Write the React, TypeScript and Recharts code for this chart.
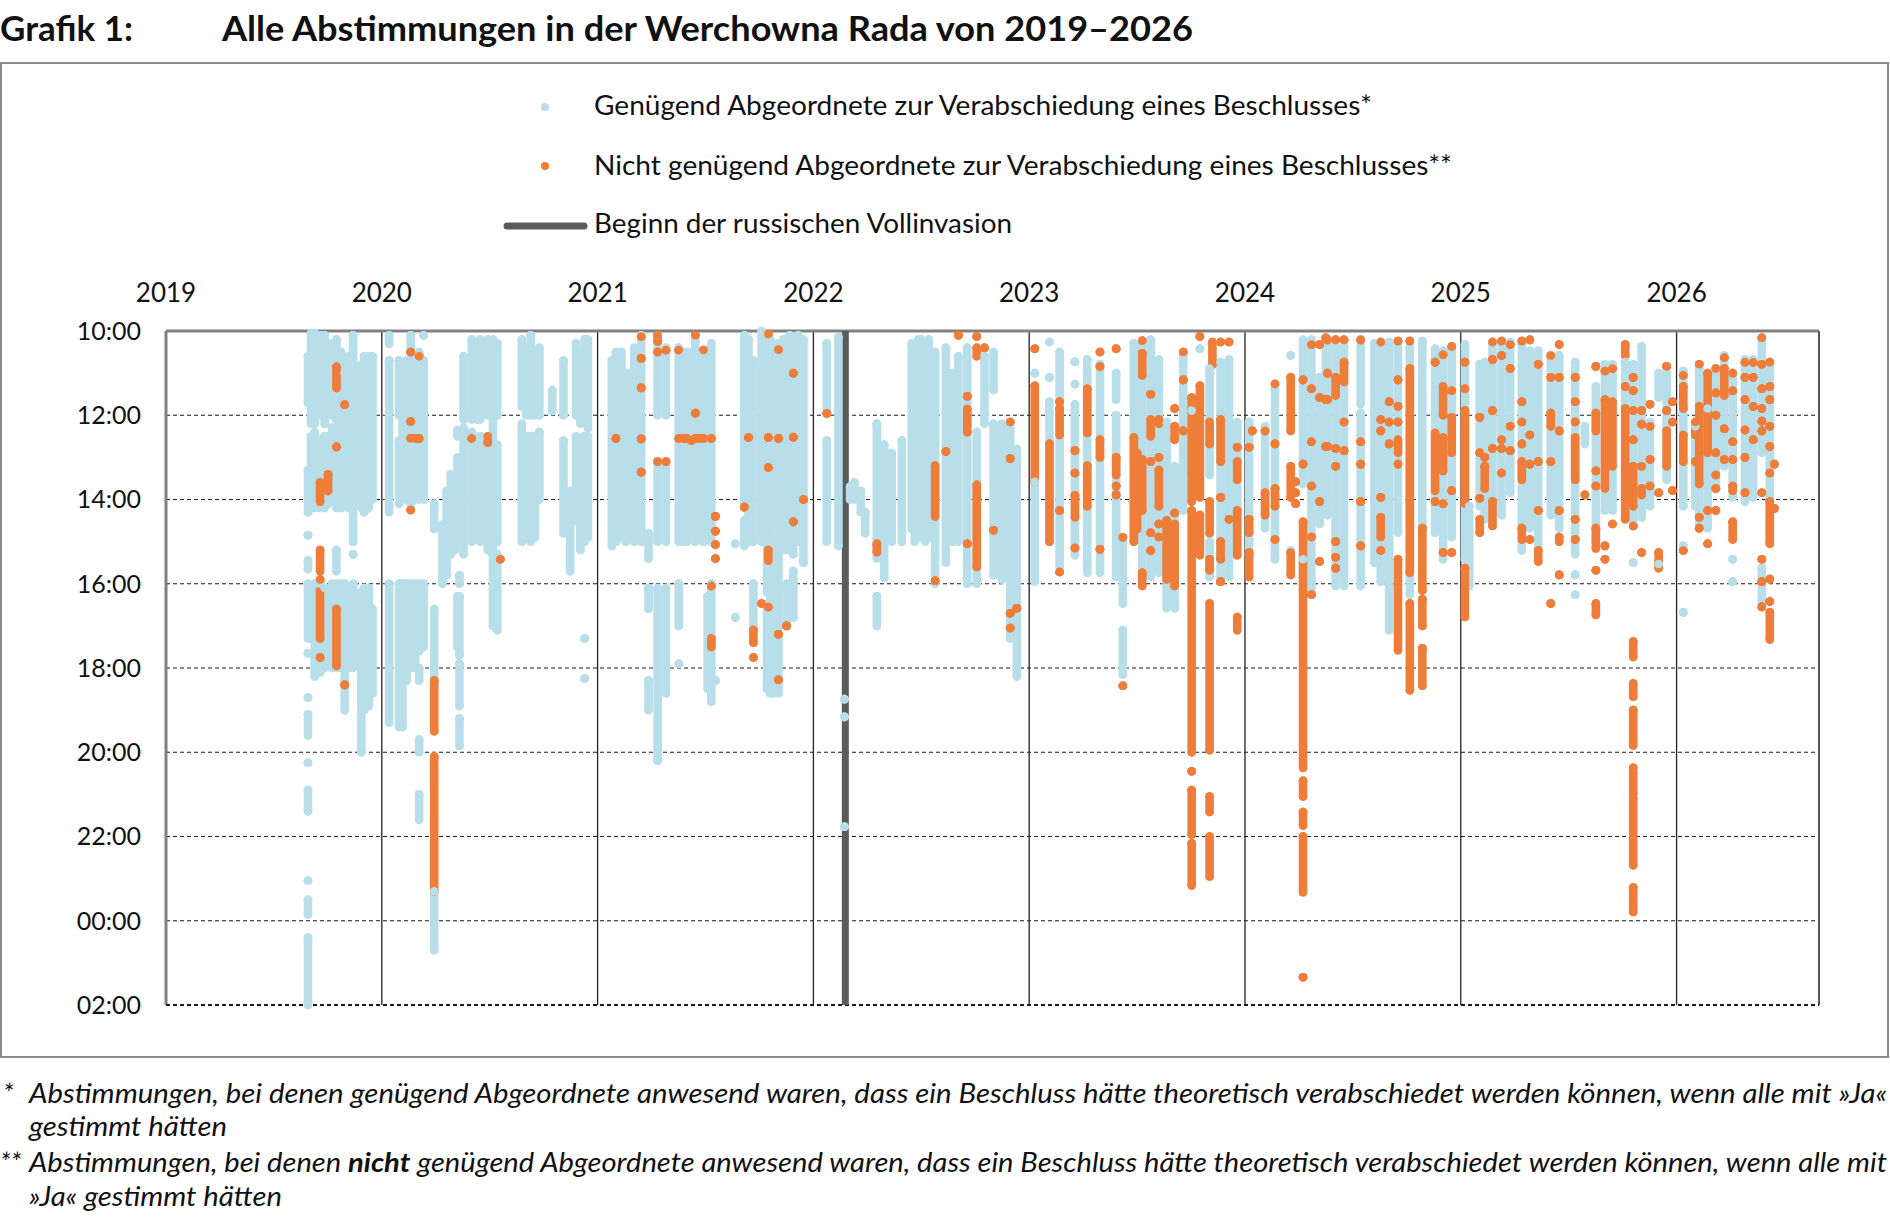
import {
  CartesianGrid,
  ErrorBar,
  Legend,
  ReferenceLine,
  Scatter,
  ScatterChart,
  XAxis,
  YAxis,
} from "recharts"

const BLUE = "#b8dee9"
const ORANGE = "#ef7d3a"
const FONT = "Lato, 'Open Sans', sans-serif"

const YEARS = [2019, 2020, 2021, 2022, 2023, 2024, 2025, 2026]
const HOURS = [10, 12, 14, 16, 18, 20, 22, 24, 26]
const X_END = 2026.66
const INVASION = 2022.148

// [date as fractional year, first vote hour, last vote hour]; hours past midnight run on as 24+
type Run = [number, number, number]

const blue2019: Run[] = [
  [2019.658, 10.6, 11.7], [2019.658, 13.3, 14.3], [2019.658, 14.85, 14.85], [2019.658, 15.45, 15.65],
  [2019.658, 16.0, 17.3], [2019.658, 17.65, 17.65], [2019.658, 18.7, 18.7], [2019.658, 19.1, 19.6],
  [2019.658, 20.25, 20.25], [2019.658, 20.9, 21.4], [2019.658, 23.05, 23.05], [2019.658, 23.5, 23.85],
  [2019.658, 24.4, 26.0],
  [2019.672, 10.05, 12.2], [2019.672, 12.5, 14.2],
  [2019.689, 10.05, 12.2], [2019.689, 12.4, 14.2], [2019.689, 16.0, 18.2],
  [2019.714, 10.1, 12.0], [2019.714, 12.6, 14.2], [2019.714, 16.0, 18.1],
  [2019.735, 10.1, 12.2], [2019.735, 12.5, 14.2], [2019.735, 16.1, 18.0],
  [2019.751, 10.3, 11.0], [2019.751, 12.5, 14.1],
  [2019.77, 10.3, 12.0], [2019.77, 12.3, 14.0], [2019.77, 16.0, 18.0],
  [2019.79, 10.2, 12.1], [2019.79, 12.3, 14.2], [2019.79, 15.2, 15.7], [2019.79, 16.0, 18.0],
  [2019.812, 10.5, 14.2], [2019.812, 16.0, 18.0],
  [2019.828, 11.0, 14.0], [2019.828, 16.0, 19.0],
  [2019.848, 10.6, 14.2], [2019.848, 16.2, 18.0],
  [2019.867, 10.1, 15.0], [2019.867, 15.3, 15.3], [2019.867, 16.0, 18.0],
  [2019.905, 10.8, 14.2], [2019.905, 16.2, 20.0],
  [2019.918, 10.6, 14.3], [2019.918, 16.1, 19.0],
  [2019.94, 10.6, 14.2], [2019.94, 16.1, 18.9],
  [2019.957, 10.6, 14.0], [2019.957, 16.6, 18.6],
]

const orange2019: Run[] = [
  [2019.714, 13.6, 14.05], [2019.714, 15.2, 15.7], [2019.714, 15.9, 17.3], [2019.714, 17.75, 17.75],
  [2019.751, 13.4, 13.8],
  [2019.79, 10.85, 11.35], [2019.79, 12.75, 12.75], [2019.79, 16.6, 17.95],
  [2019.828, 11.75, 11.75], [2019.828, 18.4, 18.4],
]

const blue2020: Run[] = [
  [2020.034, 10.1, 10.3], [2020.034, 10.7, 14.3], [2020.034, 16.0, 19.3],
  [2020.08, 10.7, 12.0], [2020.08, 12.6, 14.1], [2020.08, 16.0, 19.4],
  [2020.096, 10.8, 14.0], [2020.096, 16.0, 19.4],
  [2020.115, 10.7, 14.0], [2020.115, 16.0, 18.3],
  [2020.134, 10.1, 12.0], [2020.134, 12.6, 14.1], [2020.134, 16.0, 18.0],
  [2020.155, 10.7, 14.0], [2020.155, 16.0, 18.0],
  [2020.173, 10.5, 14.0], [2020.173, 16.0, 17.6], [2020.173, 18.0, 18.3], [2020.173, 19.7, 20.0],
  [2020.173, 21.0, 21.6],
  [2020.194, 10.1, 10.1], [2020.194, 10.7, 14.0], [2020.194, 16.0, 17.5],
  [2020.243, 14.1, 14.7], [2020.243, 16.6, 18.3], [2020.243, 23.3, 24.7],
  [2020.281, 14.6, 16.0],
  [2020.3, 13.8, 15.8],
  [2020.32, 13.4, 15.3],
  [2020.34, 13.5, 15.2],
  [2020.351, 12.35, 12.5], [2020.351, 13.0, 15.0], [2020.351, 16.3, 17.5],
  [2020.36, 15.8, 16.0], [2020.36, 16.3, 17.7], [2020.36, 17.9, 18.9], [2020.36, 19.2, 19.85],
  [2020.379, 10.6, 12.1], [2020.379, 12.3, 15.3],
  [2020.417, 10.2, 12.1], [2020.417, 12.4, 15.0],
  [2020.44, 10.3, 12.1], [2020.44, 12.6, 14.9],
  [2020.456, 10.2, 12.1], [2020.456, 12.5, 15.0],
  [2020.491, 10.2, 12.0], [2020.491, 12.5, 15.2],
  [2020.515, 10.2, 15.3], [2020.515, 15.3, 17.0],
  [2020.535, 10.3, 12.0], [2020.535, 12.7, 15.0], [2020.535, 15.3, 17.1],
  [2020.649, 10.2, 11.8], [2020.649, 12.2, 15.0],
  [2020.67, 10.4, 12.0], [2020.67, 12.5, 14.9],
  [2020.69, 10.1, 12.0], [2020.69, 12.5, 15.0],
  [2020.71, 10.7, 12.0], [2020.71, 12.5, 14.9],
  [2020.73, 10.4, 12.0], [2020.73, 12.4, 14.0],
  [2020.79, 11.4, 11.9],
  [2020.842, 10.7, 12.0], [2020.842, 12.6, 14.8],
  [2020.873, 13.8, 15.7],
  [2020.9, 10.3, 12.0], [2020.9, 12.5, 14.5],
  [2020.92, 10.5, 12.2], [2020.92, 12.6, 15.2],
  [2020.94, 10.2, 12.0], [2020.94, 12.5, 15.0], [2020.94, 17.3, 17.3], [2020.94, 18.25, 18.25],
  [2020.955, 10.2, 12.3], [2020.955, 12.5, 14.9],
]

const orange2020: Run[] = [
  [2020.134, 10.5, 10.5], [2020.134, 12.15, 12.15], [2020.134, 12.55, 12.55], [2020.134, 14.25, 14.25],
  [2020.155, 12.55, 12.55],
  [2020.173, 10.6, 10.6], [2020.173, 12.55, 12.55],
  [2020.243, 18.3, 19.5], [2020.243, 20.1, 23.3],
  [2020.417, 12.55, 12.55],
  [2020.491, 12.5, 12.65],
  [2020.549, 15.42, 15.42],
]

const blue2021: Run[] = [
  [2021.066, 10.7, 15.1], [2021.085, 10.5, 15.0], [2021.11, 10.5, 14.9], [2021.13, 11.0, 15.0],
  [2021.15, 11.0, 14.9], [2021.17, 10.4, 15.0], [2021.202, 10.1, 15.0],
  [2021.236, 14.8, 15.4], [2021.236, 16.1, 16.6], [2021.236, 18.3, 19.0],
  [2021.278, 10.1, 12.0], [2021.278, 13.1, 15.0], [2021.278, 16.1, 20.2],
  [2021.317, 10.4, 12.0], [2021.317, 13.1, 15.0], [2021.317, 16.1, 18.6],
  [2021.376, 10.4, 15.0], [2021.376, 16.0, 17.0], [2021.376, 17.9, 17.9],
  [2021.4, 10.5, 15.0], [2021.414, 10.5, 15.0], [2021.435, 10.5, 14.7], [2021.453, 10.2, 15.0],
  [2021.47, 10.7, 14.9], [2021.491, 10.5, 15.0],
  [2021.51, 10.5, 14.9], [2021.51, 16.3, 18.5],
  [2021.527, 10.3, 15.0], [2021.527, 16.0, 18.8],
  [2021.546, 18.3, 18.3],
  [2021.638, 15.05, 15.05], [2021.638, 16.8, 16.8],
  [2021.68, 10.1, 14.2], [2021.68, 14.5, 15.1],
  [2021.699, 10.2, 15.0],
  [2021.722, 10.7, 15.0], [2021.722, 16.0, 17.0],
  [2021.76, 10.0, 15.0],
  [2021.785, 10.1, 16.2], [2021.785, 16.5, 18.5],
  [2021.8, 10.2, 18.6],
  [2021.815, 10.5, 14.5], [2021.815, 15.0, 18.6],
  [2021.838, 10.3, 18.6],
  [2021.86, 10.2, 15.2],
  [2021.876, 10.2, 15.2], [2021.876, 16.0, 17.0],
  [2021.89, 10.1, 15.0],
  [2021.907, 10.3, 15.3], [2021.907, 15.7, 16.8],
  [2021.93, 10.1, 15.0],
  [2021.954, 10.2, 15.5],
]

const orange2021: Run[] = [
  [2021.085, 12.55, 12.55],
  [2021.202, 10.13, 10.13], [2021.202, 10.65, 10.65], [2021.202, 11.35, 11.35], [2021.202, 12.56, 12.56],
  [2021.202, 13.35, 13.35],
  [2021.278, 10.1, 10.25], [2021.278, 10.5, 10.5], [2021.278, 13.1, 13.1],
  [2021.317, 10.45, 10.45], [2021.317, 13.1, 13.1],
  [2021.376, 10.45, 10.45], [2021.376, 12.55, 12.55],
  [2021.4, 12.55, 12.55], [2021.414, 12.55, 12.55], [2021.435, 12.6, 12.6],
  [2021.453, 10.1, 10.1], [2021.453, 11.95, 11.95], [2021.453, 12.55, 12.55],
  [2021.47, 12.55, 12.55],
  [2021.491, 10.45, 10.45], [2021.491, 12.55, 12.55],
  [2021.527, 12.55, 12.55], [2021.527, 16.05, 16.05], [2021.527, 17.3, 17.5],
  [2021.546, 14.4, 14.4], [2021.546, 14.75, 14.75], [2021.546, 15.07, 15.07], [2021.546, 15.4, 15.4],
  [2021.68, 14.18, 14.18],
  [2021.699, 12.53, 12.53],
  [2021.722, 17.1, 17.4], [2021.722, 17.75, 17.75],
  [2021.76, 16.47, 16.47],
  [2021.791, 10.07, 10.07], [2021.791, 12.53, 12.53], [2021.791, 13.24, 13.24], [2021.791, 15.2, 15.45],
  [2021.791, 16.55, 16.55],
  [2021.838, 10.44, 10.44], [2021.838, 12.55, 12.55], [2021.838, 17.2, 17.2], [2021.838, 18.28, 18.28],
  [2021.876, 17.0, 17.0],
  [2021.907, 11.0, 11.0], [2021.907, 12.52, 12.52], [2021.907, 14.53, 14.53],
  [2021.954, 14.0, 14.0],
]

const blue2022: Run[] = [
  [2022.062, 10.3, 11.85], [2022.062, 12.6, 15.0],
  [2022.116, 10.15, 15.1],
  [2022.144, 18.74, 18.74], [2022.144, 19.16, 19.16], [2022.144, 21.77, 21.77],
  [2022.17, 13.7, 14.0], [2022.19, 13.6, 14.0], [2022.22, 13.8, 14.3], [2022.24, 14.3, 14.8],
  [2022.294, 12.2, 15.4], [2022.294, 16.3, 17.0],
  [2022.328, 12.7, 15.85], [2022.363, 12.9, 15.0], [2022.41, 12.6, 15.0],
  [2022.456, 10.3, 14.7], [2022.47, 10.3, 15.0], [2022.487, 10.2, 14.8], [2022.5, 10.2, 14.9],
  [2022.518, 10.3, 15.0], [2022.535, 10.2, 14.9], [2022.564, 10.5, 16.0], [2022.614, 10.4, 15.5],
  [2022.645, 11.0, 15.0], [2022.672, 10.6, 15.0], [2022.713, 10.4, 16.0], [2022.757, 12.4, 16.0],
  [2022.793, 10.6, 12.2],
  [2022.835, 10.5, 11.4], [2022.835, 12.2, 15.8],
  [2022.873, 12.2, 15.9], [2022.912, 12.2, 17.3], [2022.943, 12.8, 18.2],
]

const orange2022: Run[] = [
  [2022.062, 11.96, 11.96],
  [2022.294, 15.05, 15.25],
  [2022.564, 13.2, 14.4], [2022.564, 15.93, 15.93],
  [2022.614, 12.86, 12.86],
  [2022.672, 10.1, 10.1],
  [2022.713, 11.55, 11.55], [2022.713, 11.85, 12.4], [2022.713, 15.05, 15.05],
  [2022.757, 10.13, 10.13], [2022.757, 10.4, 10.6], [2022.757, 13.65, 15.6],
  [2022.793, 10.4, 10.4],
  [2022.835, 14.73, 14.73],
  [2022.912, 12.16, 12.16], [2022.912, 13.03, 13.03], [2022.912, 16.7, 16.7], [2022.912, 17.05, 17.05],
  [2022.943, 16.58, 16.58],
]

const blue2023: Run[] = [
  [2023.026, 11.0, 11.0], [2023.026, 13.58, 15.95],
  [2023.094, 10.26, 10.26], [2023.094, 11.1, 11.1], [2023.094, 11.68, 15.0],
  [2023.141, 10.5, 15.6],
  [2023.212, 10.73, 10.73], [2023.212, 11.26, 11.26], [2023.212, 11.74, 15.32],
  [2023.269, 10.68, 15.74], [2023.328, 10.79, 15.74],
  [2023.403, 11.0, 11.63], [2023.403, 12.0, 15.84],
  [2023.434, 14.9, 16.47], [2023.434, 17.1, 18.16],
  [2023.485, 10.3, 15.0], [2023.524, 10.26, 15.84], [2023.563, 10.21, 15.84], [2023.601, 10.68, 15.74],
  [2023.637, 12.16, 16.58], [2023.674, 13.21, 16.58], [2023.714, 10.58, 14.26], [2023.753, 11.89, 13.42],
  [2023.791, 10.42, 10.42],
  [2023.836, 10.89, 13.42], [2023.836, 15.0, 15.84],
  [2023.887, 10.74, 15.95], [2023.926, 10.68, 15.84], [2023.964, 12.16, 15.32],
]

const orange2023: Run[] = [
  [2023.026, 10.42, 10.42], [2023.026, 11.3, 13.58],
  [2023.094, 12.68, 15.0],
  [2023.141, 11.68, 11.68], [2023.141, 11.84, 12.47], [2023.141, 14.26, 14.26], [2023.141, 15.72, 15.72],
  [2023.212, 12.84, 12.84], [2023.212, 13.37, 13.37], [2023.212, 13.9, 14.42], [2023.212, 15.15, 15.15],
  [2023.269, 11.37, 12.42], [2023.269, 13.2, 14.16],
  [2023.328, 10.5, 10.5], [2023.328, 10.84, 10.84], [2023.328, 12.58, 13.0], [2023.328, 15.18, 15.18],
  [2023.403, 10.42, 10.42], [2023.403, 13.0, 13.42], [2023.403, 13.68, 13.68], [2023.403, 13.89, 13.89],
  [2023.434, 14.9, 14.9], [2023.434, 18.42, 18.42],
  [2023.485, 12.53, 15.0], [2023.5, 12.9, 14.7],
  [2023.524, 10.23, 10.23], [2023.524, 10.53, 11.05], [2023.524, 13.05, 14.26], [2023.524, 15.74, 16.05],
  [2023.563, 11.5, 11.5], [2023.563, 12.1, 12.5], [2023.563, 13.1, 13.1], [2023.563, 14.79, 14.79],
  [2023.563, 15.21, 15.21],
  [2023.601, 12.1, 12.2], [2023.601, 13.0, 13.0], [2023.601, 13.3, 14.16], [2023.601, 14.58, 14.58],
  [2023.601, 14.89, 14.89],
  [2023.637, 14.5, 15.9],
  [2023.674, 11.84, 11.84], [2023.674, 12.26, 12.58], [2023.674, 14.32, 14.32], [2023.674, 14.58, 16.05],
  [2023.714, 10.5, 10.5], [2023.714, 11.16, 11.16], [2023.714, 12.37, 12.37],
  [2023.753, 11.58, 14.05], [2023.753, 14.26, 20.0], [2023.753, 20.45, 20.45], [2023.753, 20.9, 21.95],
  [2023.753, 22.16, 23.16],
  [2023.791, 10.13, 10.13], [2023.791, 11.3, 13.95], [2023.791, 14.37, 15.32],
  [2023.836, 12.16, 12.68], [2023.836, 14.05, 14.8], [2023.836, 15.42, 15.68], [2023.836, 16.47, 19.95],
  [2023.836, 21.05, 21.42], [2023.836, 22.0, 22.95],
  [2023.849, 10.26, 10.8],
  [2023.887, 10.26, 10.26], [2023.887, 12.1, 13.1], [2023.887, 13.95, 13.95], [2023.887, 15.0, 15.42],
  [2023.887, 15.95, 15.95],
  [2023.926, 10.26, 10.26], [2023.926, 14.47, 14.47],
  [2023.964, 12.76, 12.76], [2023.964, 13.1, 13.53], [2023.964, 14.26, 15.32], [2023.964, 16.79, 17.1],
]

const blue2024: Run[] = [
  [2024.019, 12.16, 15.32], [2024.093, 12.26, 14.68], [2024.139, 11.37, 15.42],
  [2024.212, 10.58, 10.58], [2024.212, 15.21, 15.21],
  [2024.269, 10.21, 13.63], [2024.269, 15.42, 16.16],
  [2024.308, 10.21, 16.26], [2024.346, 11.1, 14.58], [2024.374, 10.16, 13.95], [2024.382, 10.21, 14.37],
  [2024.42, 10.37, 16.05], [2024.459, 10.37, 16.05],
  [2024.536, 10.21, 11.74], [2024.536, 11.95, 16.05],
  [2024.6, 10.3, 15.5], [2024.629, 10.26, 15.95], [2024.668, 10.26, 17.1], [2024.709, 10.26, 14.79],
  [2024.764, 10.37, 16.26], [2024.822, 10.24, 14.68], [2024.881, 10.42, 14.79], [2024.918, 10.47, 15.42],
  [2024.958, 10.47, 14.89],
]

const orange2024: Run[] = [
  [2024.019, 12.76, 12.76], [2024.019, 14.47, 14.79], [2024.019, 15.26, 15.84],
  [2024.034, 12.37, 12.37],
  [2024.093, 12.37, 12.37], [2024.093, 13.84, 14.37],
  [2024.139, 11.26, 11.26], [2024.139, 12.68, 12.68], [2024.139, 13.74, 14.16], [2024.139, 14.95, 14.95],
  [2024.212, 11.1, 12.37], [2024.212, 13.21, 13.95], [2024.212, 15.26, 15.79],
  [2024.235, 13.58, 13.58], [2024.235, 13.84, 13.84], [2024.235, 14.1, 14.1],
  [2024.269, 11.16, 11.16], [2024.269, 13.16, 13.16], [2024.269, 14.53, 20.37], [2024.269, 20.68, 21.05],
  [2024.269, 21.42, 21.74], [2024.269, 22.0, 23.32], [2024.269, 25.34, 25.34],
  [2024.308, 10.32, 10.32], [2024.308, 11.37, 11.37], [2024.308, 12.63, 12.63], [2024.308, 13.68, 13.68],
  [2024.308, 14.89, 14.89], [2024.308, 16.26, 16.26],
  [2024.346, 10.32, 10.32], [2024.346, 11.58, 11.58], [2024.346, 14.05, 14.05], [2024.346, 15.47, 15.47],
  [2024.374, 10.16, 10.16], [2024.374, 11.63, 11.63], [2024.374, 12.74, 12.74],
  [2024.382, 10.21, 10.21], [2024.382, 11.0, 11.0], [2024.382, 11.63, 11.63], [2024.382, 12.74, 12.74],
  [2024.42, 10.21, 10.21], [2024.42, 11.1, 11.53], [2024.42, 12.79, 12.79], [2024.42, 13.21, 13.21],
  [2024.42, 15.0, 15.0], [2024.42, 15.37, 15.37], [2024.42, 15.63, 15.63],
  [2024.459, 10.21, 10.21], [2024.459, 10.74, 11.21], [2024.459, 12.16, 12.16], [2024.459, 12.84, 12.84],
  [2024.536, 10.21, 10.21], [2024.536, 12.63, 12.63], [2024.536, 13.16, 13.16], [2024.536, 14.05, 14.05],
  [2024.536, 15.1, 15.1],
  [2024.629, 10.26, 10.26], [2024.629, 12.1, 12.1], [2024.629, 12.37, 12.37], [2024.629, 13.95, 13.95],
  [2024.629, 14.42, 14.89], [2024.629, 15.21, 15.21],
  [2024.668, 11.68, 11.68], [2024.668, 12.16, 12.16], [2024.668, 12.68, 12.68],
  [2024.709, 10.24, 10.24], [2024.709, 11.16, 11.16], [2024.709, 11.79, 11.79], [2024.709, 12.16, 12.16],
  [2024.709, 12.58, 12.89], [2024.709, 13.16, 13.16], [2024.709, 15.42, 17.58],
  [2024.764, 10.24, 10.24], [2024.764, 10.89, 15.74], [2024.764, 16.47, 18.53],
  [2024.822, 14.68, 16.16], [2024.822, 16.37, 17.0], [2024.822, 17.53, 18.42],
  [2024.881, 10.74, 10.74], [2024.881, 12.42, 13.79], [2024.881, 14.05, 14.05],
  [2024.918, 10.56, 10.56], [2024.918, 11.32, 12.0], [2024.918, 12.53, 13.32], [2024.918, 14.1, 14.1],
  [2024.918, 15.26, 15.26],
  [2024.958, 10.37, 10.37], [2024.958, 11.42, 11.42], [2024.958, 12.05, 12.89], [2024.958, 13.79, 13.79],
  [2024.958, 15.26, 15.26],
]

const blue2025: Run[] = [
  [2025.019, 10.32, 15.42], [2025.039, 14.16, 16.05], [2025.088, 10.79, 14.16], [2025.111, 10.74, 14.47],
  [2025.147, 10.26, 14.37], [2025.189, 10.26, 14.37], [2025.229, 10.26, 13.84], [2025.283, 10.26, 15.21],
  [2025.32, 10.47, 14.68], [2025.359, 10.47, 15.21], [2025.417, 10.58, 14.37], [2025.456, 10.58, 14.68],
  [2025.53, 10.74, 15.3], [2025.53, 15.79, 15.79], [2025.53, 16.26, 16.26],
  [2025.575, 12.26, 12.68], [2025.626, 11.32, 15.0], [2025.668, 10.79, 14.26], [2025.703, 10.79, 14.26],
  [2025.762, 10.74, 14.37],
  [2025.799, 10.79, 14.47], [2025.799, 15.5, 15.5],
  [2025.838, 10.37, 14.42], [2025.877, 12.16, 14.16],
  [2025.917, 11.0, 11.58], [2025.917, 15.53, 15.53],
  [2025.954, 11.0, 13.53],
]

const orange2025: Run[] = [
  [2025.019, 10.74, 10.74], [2025.019, 11.37, 11.37], [2025.019, 11.89, 14.1], [2025.019, 15.63, 16.79],
  [2025.088, 12.05, 12.05], [2025.088, 12.89, 12.89], [2025.088, 13.97, 13.97], [2025.088, 14.47, 14.79],
  [2025.111, 13.0, 13.0], [2025.111, 13.21, 13.74],
  [2025.147, 10.26, 10.26], [2025.147, 10.68, 10.68], [2025.147, 11.89, 11.89], [2025.147, 12.79, 12.79],
  [2025.147, 14.05, 14.63],
  [2025.189, 10.24, 10.24], [2025.189, 10.58, 10.58], [2025.189, 12.58, 12.58], [2025.189, 12.79, 12.79],
  [2025.189, 13.37, 13.37],
  [2025.229, 10.32, 10.32], [2025.229, 10.89, 10.89], [2025.229, 12.26, 12.26], [2025.229, 12.84, 12.84],
  [2025.283, 10.24, 10.24], [2025.283, 11.68, 11.68], [2025.283, 12.16, 12.16], [2025.283, 12.68, 12.68],
  [2025.283, 13.1, 13.53], [2025.283, 14.68, 14.95],
  [2025.32, 10.21, 10.21], [2025.32, 12.47, 12.47], [2025.32, 13.16, 13.16], [2025.32, 14.95, 14.95],
  [2025.359, 10.79, 10.79], [2025.359, 13.1, 13.1], [2025.359, 14.26, 14.26], [2025.359, 15.21, 15.47],
  [2025.417, 10.58, 10.58], [2025.417, 11.1, 11.1], [2025.417, 11.95, 12.26], [2025.417, 13.1, 13.1],
  [2025.417, 16.47, 16.47],
  [2025.456, 10.32, 10.32], [2025.456, 11.1, 11.1], [2025.456, 12.37, 12.37], [2025.456, 14.26, 14.26],
  [2025.456, 14.89, 15.0], [2025.456, 15.79, 15.79],
  [2025.53, 11.1, 11.1], [2025.53, 11.68, 11.68], [2025.53, 12.16, 12.16], [2025.53, 12.53, 13.53],
  [2025.53, 14.47, 14.47], [2025.53, 14.95, 14.95],
  [2025.575, 13.89, 13.89],
  [2025.626, 10.84, 10.84], [2025.626, 11.95, 12.37], [2025.626, 13.32, 13.32], [2025.626, 13.68, 13.68],
  [2025.626, 14.68, 15.16], [2025.626, 15.68, 15.68], [2025.626, 16.47, 16.74],
  [2025.668, 10.95, 10.95], [2025.668, 11.63, 13.74], [2025.668, 15.1, 15.1], [2025.668, 15.42, 15.42],
  [2025.703, 10.89, 10.89], [2025.703, 11.68, 13.21], [2025.703, 14.58, 14.58],
  [2025.762, 10.32, 10.58], [2025.762, 11.32, 11.32], [2025.762, 11.84, 14.47],
  [2025.799, 11.1, 11.1], [2025.799, 11.42, 11.42], [2025.799, 11.89, 11.89], [2025.799, 12.58, 12.58],
  [2025.799, 13.21, 14.16], [2025.799, 14.63, 14.63], [2025.799, 17.37, 17.74], [2025.799, 18.37, 18.68],
  [2025.799, 19.0, 19.84], [2025.799, 20.37, 21.0], [2025.799, 21.1, 22.68], [2025.799, 23.21, 23.79],
  [2025.838, 11.89, 11.89], [2025.838, 12.21, 12.21], [2025.838, 13.21, 13.21], [2025.838, 13.74, 13.89],
  [2025.838, 15.26, 15.26],
  [2025.877, 11.74, 11.74], [2025.877, 12.26, 12.26], [2025.877, 13.05, 13.05], [2025.877, 13.68, 13.68],
  [2025.917, 13.84, 13.84], [2025.917, 15.26, 15.63],
  [2025.954, 10.84, 10.84], [2025.954, 11.89, 11.89], [2025.954, 12.37, 13.21],
  [2025.981, 11.68, 11.68], [2025.981, 12.16, 12.16], [2025.981, 13.79, 13.79],
]

const blue2026: Run[] = [
  [2026.031, 10.95, 14.16], [2026.031, 15.1, 15.1], [2026.031, 16.68, 16.68],
  [2026.087, 12.26, 14.16], [2026.105, 10.89, 14.68], [2026.144, 11.84, 14.68], [2026.182, 10.89, 13.74],
  [2026.221, 10.58, 13.21],
  [2026.26, 11.0, 13.95], [2026.26, 15.42, 15.42], [2026.26, 15.95, 15.95],
  [2026.317, 10.68, 14.05], [2026.355, 10.68, 13.95],
  [2026.395, 10.16, 12.89], [2026.395, 15.63, 16.47],
  [2026.432, 10.79, 15.0],
]

const orange2026: Run[] = [
  [2026.031, 11.05, 11.05], [2026.031, 11.32, 11.84], [2026.031, 12.47, 13.1], [2026.031, 15.21, 15.21],
  [2026.087, 12.16, 12.47], [2026.087, 13.1, 13.1],
  [2026.105, 10.79, 10.79], [2026.105, 11.79, 13.63], [2026.105, 14.42, 14.42], [2026.105, 14.68, 14.68],
  [2026.144, 11.0, 12.89], [2026.144, 14.26, 14.26], [2026.144, 15.05, 15.05],
  [2026.182, 10.89, 10.89], [2026.182, 11.47, 11.47], [2026.182, 12.0, 12.0], [2026.182, 12.89, 12.89],
  [2026.182, 13.42, 13.42], [2026.182, 13.74, 13.74], [2026.182, 14.26, 14.26],
  [2026.221, 10.63, 10.63], [2026.221, 10.89, 11.53], [2026.221, 12.32, 12.32], [2026.221, 13.05, 13.05],
  [2026.26, 11.0, 11.0], [2026.26, 11.42, 11.42], [2026.26, 12.63, 12.63], [2026.26, 13.05, 13.05],
  [2026.26, 13.68, 13.79], [2026.26, 14.53, 14.95],
  [2026.317, 10.74, 10.74], [2026.317, 11.1, 11.1], [2026.317, 11.63, 11.63], [2026.317, 12.35, 12.35],
  [2026.317, 13.0, 13.0], [2026.317, 13.84, 13.84],
  [2026.355, 10.74, 10.74], [2026.355, 11.1, 11.1], [2026.355, 11.79, 11.79], [2026.355, 12.58, 12.58],
  [2026.395, 10.16, 10.16], [2026.395, 10.79, 10.79], [2026.395, 11.37, 11.37], [2026.395, 11.84, 11.84],
  [2026.395, 12.14, 12.14], [2026.395, 12.37, 12.37], [2026.395, 13.84, 13.84], [2026.395, 15.42, 15.42],
  [2026.395, 15.95, 15.95], [2026.395, 16.55, 16.55],
  [2026.432, 10.74, 10.74], [2026.432, 11.32, 11.32], [2026.432, 11.63, 11.63], [2026.432, 12.26, 12.26],
  [2026.432, 12.74, 12.74], [2026.432, 13.37, 13.37], [2026.432, 14.05, 15.05], [2026.432, 15.89, 15.89],
  [2026.432, 16.42, 16.42], [2026.432, 16.68, 17.32],
  [2026.453, 13.16, 13.16], [2026.453, 14.21, 14.21],
]

const LEGEND_LABELS = [
  "Genügend Abgeordnete zur Verabschiedung eines Beschlusses*",
  "Nicht genügend Abgeordnete zur Verabschiedung eines Beschlusses**",
  "Beginn der russischen Vollinvasion",
]

type Row = { x: number; y: number; span: [number, number] }

function toRows(runs: Run[]): Row[] {
  return runs.map(([x, from, to]) => ({ x, y: from, span: [0, to - from] }))
}

const blueRows = toRows([
  ...blue2019, ...blue2020, ...blue2021, ...blue2022,
  ...blue2023, ...blue2024, ...blue2025, ...blue2026,
])
const orangeRows = toRows([
  ...orange2019, ...orange2020, ...orange2021, ...orange2022,
  ...orange2023, ...orange2024, ...orange2025, ...orange2026,
])

function formatHour(h: number) {
  return `${String(h % 24).padStart(2, "0")}:00`
}

function dot(color: string) {
  return (props: { cx?: number; cy?: number }) => (
    <circle cx={props.cx} cy={props.cy} r={4.3} fill={color} />
  )
}

function spanOf(p: any) {
  return (p.payload ?? p).span
}

function LegendBox() {
  return (
    <svg width={1000} height={170} style={{ fontFamily: FONT, overflow: "visible" }}>
      <circle cx={55} cy={27} r={4} fill={BLUE} />
      <text x={104} y={35} fontSize={26} fill="#111" textLength={778} lengthAdjust="spacingAndGlyphs">
        {LEGEND_LABELS[0]}
      </text>
      <circle cx={55} cy={86} r={4} fill={ORANGE} />
      <text x={104} y={95} fontSize={26} fill="#111" textLength={858} lengthAdjust="spacingAndGlyphs">
        {LEGEND_LABELS[1]}
      </text>
      <line x1={17} x2={94} y1={146} y2={146} stroke="#5b5b5b" strokeWidth={7} strokeLinecap="round" />
      <text x={104} y={153} fontSize={26} fill="#111" textLength={418} lengthAdjust="spacingAndGlyphs">
        {LEGEND_LABELS[2]}
      </text>
    </svg>
  )
}

export default function App() {
  return (
    <div
      style={{
        position: "absolute",
        left: 0,
        top: 0,
        width: 1890,
        height: 1220,
        background: "#fff",
        fontFamily: FONT,
        overflow: "hidden",
      }}
    >
      <svg width={1890} height={1220} style={{ position: "absolute", left: 0, top: 0 }}>
        <rect x={1} y={63} width={1887} height={994} fill="none" stroke="#8a8a8a" strokeWidth={2} />
        <text x={0} y={41} fontSize={34} fontWeight={700} fill="#111" textLength={133} lengthAdjust="spacingAndGlyphs">
          Grafik 1:
        </text>
        <text x={222} y={41} fontSize={34} fontWeight={700} fill="#111" textLength={971} lengthAdjust="spacingAndGlyphs">
          Alle Abstimmungen in der Werchowna Rada von 2019–2026
        </text>
        <g fontSize={27} fontStyle="italic" fill="#111">
          <text x={3} y={1103}>*</text>
          <text x={29} y={1103} textLength={1858} lengthAdjust="spacingAndGlyphs">
            Abstimmungen, bei denen genügend Abgeordnete anwesend waren, dass ein Beschluss hätte theoretisch verabschiedet werden können, wenn alle mit »Ja«
          </text>
          <text x={29} y={1136} textLength={198} lengthAdjust="spacingAndGlyphs">
            gestimmt hätten
          </text>
          <text x={0} y={1172}>**</text>
          <text x={29} y={1172} textLength={1858} lengthAdjust="spacingAndGlyphs">
            Abstimmungen, bei denen <tspan fontWeight={700}>nicht</tspan> genügend Abgeordnete anwesend waren, dass ein Beschluss hätte theoretisch verabschiedet werden können, wenn alle mit
          </text>
          <text x={29} y={1206} textLength={253} lengthAdjust="spacingAndGlyphs">
            »Ja« gestimmt hätten
          </text>
        </g>
      </svg>

      <div style={{ position: "absolute", left: 0, top: 0 }}>
        <ScatterChart
          width={1890}
          height={1060}
          margin={{ top: 271, right: 71, bottom: 55, left: 66 }}
        >
          <CartesianGrid vertical={false} stroke="#1a1a1a" strokeDasharray="4 3" strokeWidth={1.2} />
          <CartesianGrid horizontal={false} stroke="#222" strokeWidth={1.3} />
          <XAxis
            dataKey="x"
            type="number"
            orientation="top"
            domain={[2019, X_END]}
            allowDataOverflow
            ticks={YEARS}
            interval={0}
            tickFormatter={(v) => String(v)}
            height={60}
            tickSize={0}
            tickMargin={29}
            axisLine={false}
            tickLine={false}
            tick={{ fill: "#111", fontSize: 26 }}
          />
          <YAxis
            dataKey="y"
            type="number"
            domain={[10, 26]}
            allowDataOverflow
            reversed
            ticks={HOURS}
            interval={0}
            tickFormatter={formatHour}
            width={100}
            tickSize={0}
            tickMargin={25}
            axisLine={false}
            tickLine={false}
            tick={{ fill: "#111", fontSize: 25 }}
          />
          <ReferenceLine y={10} stroke="#808080" strokeWidth={3} />
          <ReferenceLine x={2019} stroke="#808080" strokeWidth={3} />
          <ReferenceLine x={X_END} stroke="#555" strokeWidth={2} />
          <ReferenceLine y={26} stroke="#1a1a1a" strokeDasharray="4 3" strokeWidth={2} />
          <ReferenceLine x={INVASION} stroke="#5b5b5b" strokeWidth={7} />
          <Legend
            layout="vertical"
            align="center"
            verticalAlign="middle"
            wrapperStyle={{ left: 490, top: 80, width: 1000, height: 170 }}
            content={() => <LegendBox />}
          />
          <Scatter data={blueRows} fill={BLUE} shape={dot(BLUE)} isAnimationActive={false}>
            <ErrorBar
              dataKey={spanOf}
              direction="y"
              width={0}
              stroke={BLUE}
              strokeWidth={8.6}
              strokeLinecap="round"
              isAnimationActive={false}
            />
          </Scatter>
          <Scatter data={orangeRows} fill={ORANGE} shape={dot(ORANGE)} isAnimationActive={false}>
            <ErrorBar
              dataKey={spanOf}
              direction="y"
              width={0}
              stroke={ORANGE}
              strokeWidth={8.6}
              strokeLinecap="round"
              isAnimationActive={false}
            />
          </Scatter>
        </ScatterChart>
      </div>
    </div>
  )
}
